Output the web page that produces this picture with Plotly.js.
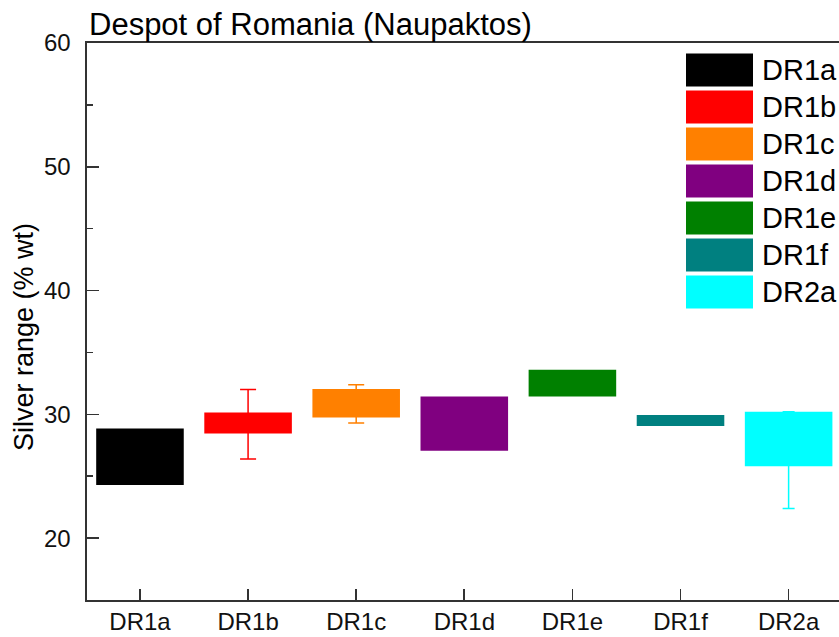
<!DOCTYPE html>
<html>
<head>
<meta charset="utf-8">
<script src="https://cdn.plot.ly/plotly-3.0.1.min.js"></script>
<style>html,body{margin:0;padding:0;overflow:hidden;background:#fff;}#chart{width:839px;height:637px;}</style>
</head>
<body>
<div id="chart"></div>
<script>
// ---- data ----
const categories = ["DR1a", "DR1b", "DR1c", "DR1d", "DR1e", "DR1f", "DR2a"];
const rangeLow   = [24.3, 28.45, 29.75, 27.05, 31.45, 29.05, 25.8];
const rangeHigh  = [28.85, 30.15, 32.05, 31.45, 33.6, 29.95, 30.2];
const whiskerLow  = [null, 26.4, 29.3, null, null, null, 22.4];
const whiskerHigh = [null, 32.0, 32.4, null, null, null, 30.2];
const colors = ["#000000", "#FF0000", "#FF8000", "#800080", "#008000", "#008080", "#00FFFF"];
const yTicks = [20, 30, 40, 50, 60];
const chartTitle = "Despot of Romania (Naupaktos)";
const yTitle = "Silver range (% wt)";

// ---- layout helpers ----
const W = 839, H = 637;
const mL = 87, mR = 0, mT = 43, mB = 37;
const pw = W - mL - mR, ph = H - mT - mB;
const px2x = p => (p - mL) / pw;
const py2y = p => 1 - (p - mT) / ph;
const FONT = "'Liberation Sans', Arial, Helvetica, sans-serif";

const traces = [];
categories.forEach((c, i) => {
  traces.push({
    type: "bar",
    x: [c],
    base: [rangeLow[i]],
    y: [rangeHigh[i] - rangeLow[i]],
    width: 0.81,
    marker: {color: colors[i], line: {width: 0}},
    showlegend: false,
    hoverinfo: "skip"
  });
  if (whiskerLow[i] !== null) {
    const anchor = rangeLow[i];
    traces.push({
      type: "scatter",
      mode: "markers",
      x: [c],
      y: [anchor],
      marker: {opacity: 0, size: 1},
      error_y: {
        type: "data",
        symmetric: false,
        array: [whiskerHigh[i] - anchor],
        arrayminus: [anchor - whiskerLow[i]],
        color: colors[i],
        thickness: 1.5,
        width: i === 6 ? 6 : 8
      },
      showlegend: false,
      hoverinfo: "skip"
    });
  }
});

// legend drawn as shapes + annotations
const shapes = [];
const annotations = [];
categories.forEach((c, i) => {
  const top = 53.5 + i * 37;
  shapes.push({
    type: "rect", xref: "paper", yref: "paper",
    x0: px2x(686), x1: px2x(753),
    y0: py2y(top + 33), y1: py2y(top),
    fillcolor: colors[i], line: {width: 0}, layer: "above"
  });
  annotations.push({
    xref: "paper", yref: "paper",
    x: px2x(760), y: py2y(top + 16.5),
    xanchor: "left", yanchor: "middle",
    text: c, showarrow: false,
    font: {family: FONT, size: 29, color: "#000"}
  });
});
annotations.push({
  xref: "paper", yref: "paper",
  x: px2x(87), y: 1, xanchor: "left", yanchor: "bottom", yshift: -1,
  text: chartTitle, showarrow: false,
  font: {family: FONT, size: 31, color: "#000"}
});
annotations.push({
  xref: "paper", yref: "paper",
  x: px2x(24), y: py2y(337), xanchor: "center", yanchor: "middle",
  text: yTitle, textangle: -90, showarrow: false,
  font: {family: FONT, size: 27, color: "#000"}
});

const layout = {
  width: W, height: H,
  margin: {l: mL, r: mR, t: mT, b: mB, pad: 0},
  paper_bgcolor: "#fff", plot_bgcolor: "#fff",
  font: {family: FONT, color: "#000"},
  showlegend: false,
  xaxis: {
    type: "category",
    categoryorder: "array", categoryarray: categories,
    range: [-0.49, 6.466],
    showgrid: false, zeroline: false,
    showline: true, linecolor: "#333", linewidth: 1.6, mirror: true,
    ticks: "inside", ticklen: 11, tickwidth: 1.6, tickcolor: "#333",
    tickfont: {family: FONT, size: 24, color: "#111"},
    ticklabelstandoff: 0
  },
  yaxis: {
    range: [15, 60],
    tickvals: yTicks,
    ticktext: yTicks.map(String),
    showgrid: false, zeroline: false,
    showline: true, linecolor: "#333", linewidth: 1.6, mirror: false,
    ticks: "inside", ticklen: 12, tickwidth: 1.6, tickcolor: "#333",
    tickfont: {family: FONT, size: 24, color: "#111"},
    ticklabelstandoff: 10,
    minor: {ticks: "inside", ticklen: 6, tickwidth: 1.6, tickcolor: "#333", dtick: 5, tick0: 0, showgrid: false}
  },
  shapes: shapes,
  annotations: annotations
};

Plotly.newPlot("chart", traces, layout, {displayModeBar: false, staticPlot: true});
</script>
</body>
</html>
